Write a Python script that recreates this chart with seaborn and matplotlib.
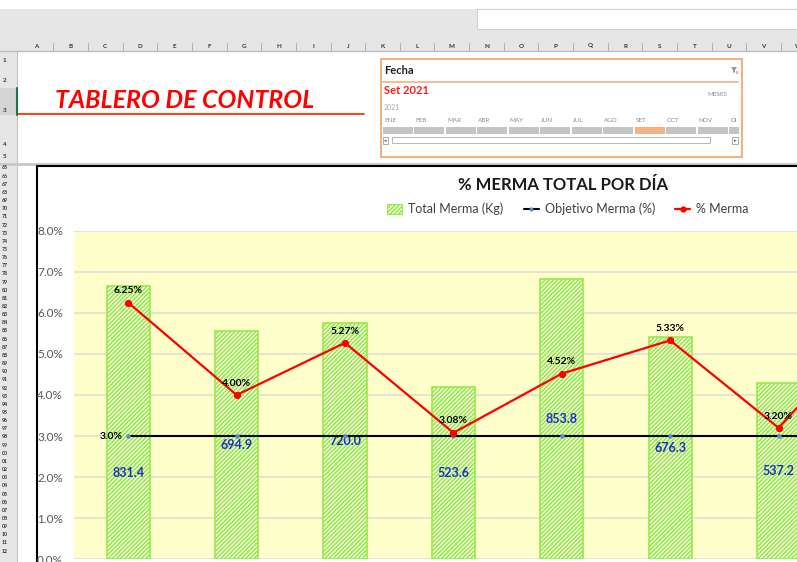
import numpy as np
import matplotlib.pyplot as plt
import seaborn as sns
from matplotlib.patches import Rectangle, Patch, Polygon
from matplotlib.lines import Line2D
from matplotlib.ticker import FuncFormatter

# ----------------------------
# Data
# ----------------------------
dias = ["01", "02", "03", "04", "05", "06", "07", "08"]
total_merma_kg = [831.4, 694.9, 720.0, 523.6, 853.8, 676.3, 537.2]   # bar series (secondary axis)
pct_merma = [6.25, 4.00, 5.27, 3.08, 4.52, 5.33, 3.20, 6.07]        # % Merma (last point off screen)
objetivo_pct = [3.0, 3.0, 3.0, 3.0, 3.0, 3.0, 3.0, 3.0]             # Objetivo Merma (%)
meses = ["ENE", "FEB", "MAR", "ABR", "MAY", "JUN", "JUL", "AGO", "SET", "OCT", "NOV", "DIC"]
mes_sel = "SET"
columnas = list("ABCDEFGHIJKLMNOPQRSTUVW")

W, H = 797, 562
sns.set_theme(style="white")
plt.rcParams["font.family"] = ["Lato", "DejaVu Sans"]

fig = plt.figure(figsize=(W / 100, H / 100), dpi=100)
fig.patch.set_facecolor("white")


def fx(x):
    return x / W


def fy(y):
    return 1 - y / H


def rect(x0, y0, x1, y1, **kw):
    kw.setdefault("zorder", 0.1)
    r = Rectangle((fx(x0), fy(y1)), (x1 - x0) / W, (y1 - y0) / H,
                  transform=fig.transFigure, **kw)
    fig.add_artist(r)
    return r


def hline(x0, x1, y, **kw):
    kw.setdefault("zorder", 0.2)
    fig.add_artist(Line2D([fx(x0), fx(x1)], [fy(y), fy(y)], transform=fig.transFigure, **kw))


def vline(x, y0, y1, **kw):
    kw.setdefault("zorder", 0.2)
    fig.add_artist(Line2D([fx(x), fx(x)], [fy(y0), fy(y1)], transform=fig.transFigure, **kw))


def txt(x, y, s, **kw):
    kw.setdefault("va", "center")
    return fig.text(fx(x), fy(y), s, **kw)


# ----------------------------
# Excel surroundings
# ----------------------------
rect(0, 9, W, 51, facecolor="#e6e6e6", edgecolor="none")
rect(477, 9, W + 2, 29, facecolor="white", edgecolor="#d0d0d0", linewidth=0.8)
hline(0, W, 51, color="#bdbdbd", linewidth=1)
for i, c in enumerate(columnas):
    x = 36 + 34.65 * i
    txt(x, 46, c, fontsize=4.5, fontweight="bold", ha="center", color="#333333")
    vline(x + 17.3, 43, 50, color="#a8a8a8", linewidth=0.6)

# row header column
rect(0, 51, 17, H, facecolor="#e6e6e6", edgecolor="none")
rect(0, 88, 17, 115, facecolor="#d4d4d4", edgecolor="none")
vline(17, 51, H, color="#c4c4c4", linewidth=0.8)
vline(17, 88, 115, color="#217346", linewidth=1.5, zorder=0.3)
for n, y in zip(["1", "2", "3", "4", "5"], [61, 81, 110, 144, 157]):
    txt(3, y, n, fontsize=4.5, fontweight="bold", color="#333333")
for k in range(49):
    y = 168 + 8.15 * k
    if y > H - 4:
        break
    txt(1.5, y, f"{(65 + k) % 100:02d}", fontsize=3.8, fontweight="bold", color="#333333")

hline(0, W, 164, color="#c8c8c8", linewidth=2)

# title block
txt(55, 101, "TABLERO DE CONTROL", fontsize=18, fontweight="bold", fontstyle="italic",
    color="#ff0000", ha="left")
hline(18, 364, 114, color="#ff3300", linewidth=1.3)

# ----------------------------
# Slicer "Fecha"
# ----------------------------
orange = "#f4b183"
rect(380.5, 59, 741.5, 156.5, facecolor="white", edgecolor=orange, linewidth=1.5)
txt(384, 70, "Fecha", fontsize=8, fontweight="bold", color="#222222", ha="left")
fig.add_artist(Polygon([[fx(731), fy(67)], [fx(737), fy(67)], [fx(735), fy(70)], [fx(735), fy(73)],
                        [fx(733), fy(72)], [fx(733), fy(70)]], closed=True, transform=fig.transFigure,
                       facecolor="#9a9a9a", edgecolor="none", zorder=0.3))
txt(737, 73, "x", fontsize=3.5, color="#e03030", ha="center")
hline(383, 738, 82, color=orange, linewidth=1.2)
txt(384, 91, "Set 2021", fontsize=8, fontweight="bold", color="#ff1a1a", ha="left")
txt(727, 94, "MESES", fontsize=4.5, color="#8a8a8a", ha="right")
txt(384, 108, "2021", fontsize=5, color="#a6a6a6", ha="left")
for i, m in enumerate(meses):
    x0 = 383 + 31.45 * i
    if x0 > 739:
        break
    x1 = min(x0 + 30, 739)
    rect(x0, 127, x1, 134, facecolor=orange if m == mes_sel else "#c4c4c4", edgecolor="none", zorder=0.3)
    txt(x0 + 1, 121, m if x0 + 20 < 739 else m[:2], fontsize=4.5, color="#8a8a8a", ha="left")
# scroll bar
rect(383, 137, 388, 144, facecolor="white", edgecolor="#a0a0a0", linewidth=0.6, zorder=0.3)
txt(385.5, 140.5, "◂", fontsize=3.5, color="#555555", ha="center", family="DejaVu Sans")
rect(392, 137.5, 710, 143.5, facecolor="white", edgecolor="#b8b8b8", linewidth=0.7, zorder=0.3)
rect(732, 137, 738, 144, facecolor="white", edgecolor="#a0a0a0", linewidth=0.6, zorder=0.3)
txt(735, 140.5, "▸", fontsize=3.5, color="#555555", ha="center", family="DejaVu Sans")

# ----------------------------
# Chart area
# ----------------------------
rect(36.5, 166, W + 20, H + 20, facecolor="white", edgecolor="black", linewidth=1.5, zorder=0.5)

ax = fig.add_axes([fx(74), fy(559.3), 867.2 / W, 328.6 / H])
ax2 = ax.twinx()
ax2.set_zorder(1)
ax.set_zorder(2)
ax.patch.set_visible(False)
ax2.patch.set_visible(True)
ax2.patch.set_facecolor("#ffffcc")

green = "#9be84a"
plt.rcParams["hatch.linewidth"] = 1.2
sns.barplot(x=dias[:len(total_merma_kg)], y=total_merma_kg, order=dias, ax=ax2,
            width=0.4, color="#fbfff2", edgecolor=green, hatch="////////", linewidth=1.2,
            saturation=1, errorbar=None)
ax2.set_ylim(0, 1000)
ax2.set_yticks(np.arange(0, 1001, 125))
ax2.grid(axis="y", color="#dcdcd0", linewidth=1.1)
ax2.set_axisbelow(True)
ax2.tick_params(right=False, labelright=False)
ax2.set_ylabel("")

# blue kg labels at the middle of each bar (first one moved down, as in the original)
kg_labels = ax2.bar_label(ax2.containers[0], labels=[f"{v:.1f}" for v in total_merma_kg],
                          label_type="center", color="#1f2fbf", fontsize=9, fontweight="bold")
kg_labels[0].xyann = (0, -36)

sns.pointplot(x=dias, y=objetivo_pct, ax=ax, color="black", markers="o", linestyles="-",
              linewidth=1.5, markersize=2.2, markerfacecolor="#5b8bd6", markeredgecolor="#5b8bd6",
              errorbar=None)
sns.pointplot(x=dias, y=pct_merma, ax=ax, color="#ff0000", markers="o", linestyles="-",
              linewidth=1.6, markersize=4, errorbar=None)

for i, v in enumerate(pct_merma):
    ax.annotate(f"{v:.2f}%", (i, v), xytext=(0, 8.5), textcoords="offset points",
                ha="center", va="center", fontsize=7.5, fontweight="bold", color="black")
ax.annotate(f"{objetivo_pct[0]:.1f}%", (0, objetivo_pct[0]), xytext=(-4, 0), textcoords="offset points",
            ha="right", va="center", fontsize=7.5, fontweight="bold", color="black")

ax.set_ylim(0, 8)
ax.set_yticks(np.arange(0, 9, 1))
ax.yaxis.set_major_formatter(FuncFormatter(lambda v, p: f"{v:.1f}%"))
ax.tick_params(axis="y", length=0, pad=8, labelsize=8.5, labelcolor="#595959")
ax.tick_params(axis="x", length=0, labelbottom=False)
ax.set_xlim(-0.5, len(dias) - 0.5)
ax.set_xlabel("")
ax.set_ylabel("")
for a in (ax, ax2):
    for s in a.spines.values():
        s.set_visible(False)

# title & legend
txt(563, 185, "% MERMA TOTAL POR DÍA", fontsize=12, fontweight="bold", color="#1a1a1a", ha="center")
handles = [
    Patch(facecolor="#fbfff2", edgecolor=green, hatch="////////", linewidth=0.8),
    Line2D([], [], color="black", linewidth=1.5, marker="o", markersize=2,
           markerfacecolor="#5b8bd6", markeredgecolor="#5b8bd6"),
    Line2D([], [], color="#ff0000", linewidth=1.6, marker="o", markersize=3.5),
]
fig.legend(handles, ["Total Merma (Kg)", "Objetivo Merma (%)", "% Merma"],
           loc="center", bbox_to_anchor=(fx(568), fy(209)), ncol=3, frameon=False,
           fontsize=9, handlelength=1.2, handleheight=0.8, columnspacing=1.6, handletextpad=0.5,
           labelcolor="#404040")

fig.savefig("out.png", dpi=100)
